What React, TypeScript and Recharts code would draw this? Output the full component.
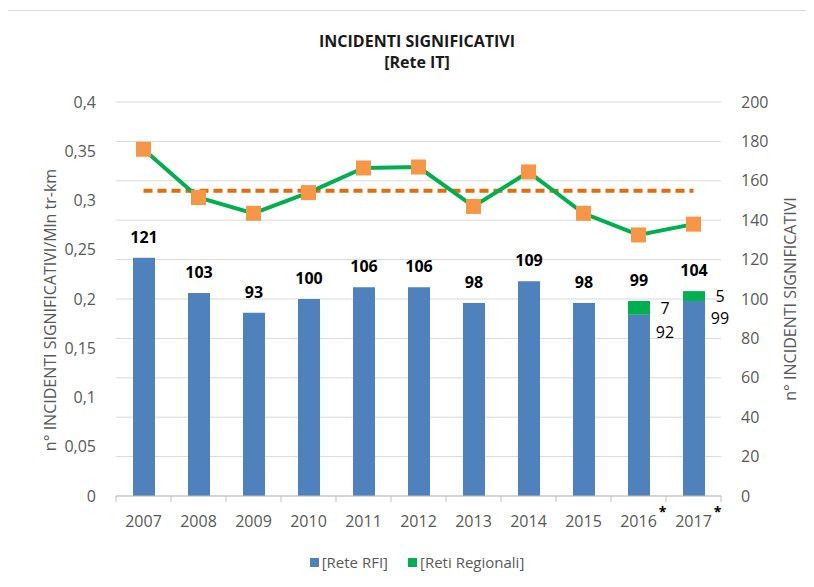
import React from 'react';
import { ComposedChart, Bar, Line, XAxis, YAxis, CartesianGrid, LabelList } from 'recharts';

const anni = ['2007', '2008', '2009', '2010', '2011', '2012', '2013', '2014', '2015', '2016', '2017'];
const reteRFI = [121, 103, 93, 100, 106, 106, 98, 109, 98, 92, 99];
const retiRegionali = [0, 0, 0, 0, 0, 0, 0, 0, 0, 7, 5];
const tasso = [0.352, 0.303, 0.287, 0.308, 0.333, 0.334, 0.294, 0.329, 0.287, 0.265, 0.276];
const mediaTasso = [0.31, 0.31, 0.31, 0.31, 0.31, 0.31, 0.31, 0.31, 0.31, 0.31, 0.31];
const anniConAsterisco = ['2016', '2017'];
const tickSinistra = [0, 0.05, 0.1, 0.15, 0.2, 0.25, 0.3, 0.35, 0.4];
const tickDestra = [0, 20, 40, 60, 80, 100, 120, 140, 160, 180, 200];

const data = anni.map((anno, i) => {
  const tot = reteRFI[i] + retiRegionali[i];
  const haRegionali = retiRegionali[i] > 0;
  return {
    anno,
    rfi: reteRFI[i],
    regionali: retiRegionali[i],
    tasso: tasso[i],
    media: mediaTasso[i],
    tot,
    totSopraRFI: haRegionali ? null : tot,
    rfiLato: haRegionali ? reteRFI[i] : null,
  };
});

const FONT = '"Open Sans", "Liberation Sans", sans-serif';
const GREY = '#595959';
const BAND = 55;

const XTick = (props: any) => {
  const { x, y, payload, index } = props;
  const star = anniConAsterisco.includes(payload.value);
  return (
    <g>
      <line x1={x - BAND / 2} y1={y} x2={x - BAND / 2} y2={y + 6} stroke="#bfbfbf" />
      {index === anni.length - 1 && (
        <line x1={x + BAND / 2} y1={y} x2={x + BAND / 2} y2={y + 6} stroke="#bfbfbf" />
      )}
      <text x={x} y={y + 31} textAnchor="middle" fill={GREY} fontSize={16} fontFamily={FONT}>
        {payload.value}
      </text>
      {star && (
        <text x={x + 24} y={y + 21} textAnchor="middle" fill="#000" fontSize={14} fontWeight="bold" fontFamily={FONT}>
          *
        </text>
      )}
    </g>
  );
};

const Quadrato = (props: any) => {
  const { cx, cy } = props;
  if (cx == null || cy == null) return null;
  return <rect x={cx - 7.5} y={cy - 7.5} width={15} height={15} fill="#f79646" />;
};

const TotaleSopra = (props: any) => {
  const { x, y, width, value } = props;
  if (value == null || value === '') return null;
  return (
    <text x={x + width / 2} y={y - 15} textAnchor="middle" fill="#000" fontSize={16} fontWeight="bold" fontFamily={FONT}>
      {value}
    </text>
  );
};

const LatoAlto = (props: any) => {
  const { x, y, width, height, value } = props;
  if (!value) return null;
  return (
    <text x={x + width + 15} y={y + height / 2 + 6} textAnchor="middle" fill="#000" fontSize={16} fontFamily={FONT}>
      {value}
    </text>
  );
};

const LatoBasso = (props: any) => {
  const { x, y, width, value } = props;
  if (value == null || value === '') return null;
  return (
    <text x={x + width + 15} y={y + 23} textAnchor="middle" fill="#000" fontSize={16} fontFamily={FONT}>
      {value}
    </text>
  );
};

export default function App() {
  return (
    <div
      style={{
        position: 'relative',
        margin: -8,
        width: 814,
        height: 587,
        overflow: 'hidden',
        background: '#fff',
        fontFamily: FONT,
      }}
    >
      <div
        style={{
          position: 'absolute',
          left: 5,
          top: 10,
          width: 830,
          height: 600,
          border: '1px solid #d9d9d9',
        }}
      />
      <div
        style={{
          position: 'absolute',
          top: 31,
          left: 0,
          width: 834,
          textAlign: 'center',
          fontWeight: 'bold',
          fontSize: 16,
          lineHeight: '21px',
          color: '#1a1a1a',
        }}
      >
        INCIDENTI SIGNIFICATIVI
        <br />
        [Rete IT]
      </div>

      <div style={{ position: 'absolute', left: 0, top: 0 }}>
        <ComposedChart width={814} height={587} data={data} margin={{ top: 102, right: 0, bottom: 0, left: 0 }}>
          <CartesianGrid vertical={false} yAxisId="right" stroke="#d9d9d9" />
          <XAxis
            dataKey="anno"
            height={91}
            axisLine={{ stroke: '#bfbfbf' }}
            tickLine={false}
            tickSize={0}
            tickMargin={0}
            interval={0}
            tick={<XTick />}
          />
          <YAxis
            yAxisId="left"
            orientation="left"
            width={116}
            domain={[0, 0.4]}
            ticks={tickSinistra}
            axisLine={false}
            tickLine={false}
            tickMargin={14}
            tickFormatter={(v: number) => String(v).replace('.', ',')}
            tick={{ fill: GREY, fontSize: 16, fontFamily: FONT }}
          />
          <YAxis
            yAxisId="right"
            orientation="right"
            width={93}
            domain={[0, 200]}
            ticks={tickDestra}
            axisLine={false}
            tickLine={false}
            tickMargin={14}
            tick={{ fill: GREY, fontSize: 16, fontFamily: FONT, textAnchor: 'start' }}
          />
          <Bar dataKey="rfi" stackId="a" yAxisId="right" fill="#4f81bd" barSize={22} isAnimationActive={false}>
            <LabelList dataKey="totSopraRFI" content={<TotaleSopra />} />
            <LabelList dataKey="rfiLato" content={<LatoBasso />} />
          </Bar>
          <Bar dataKey="regionali" stackId="a" yAxisId="right" fill="#00b050" barSize={22} isAnimationActive={false}>
            <LabelList dataKey="regionali" content={<LatoAlto />} />
            <LabelList dataKey="tot" content={<TotaleSopra />} />
          </Bar>
          <Line
            dataKey="media"
            yAxisId="left"
            stroke="#e46c0a"
            strokeWidth={4}
            strokeDasharray="9 5"
            dot={false}
            activeDot={false}
            legendType="none"
            isAnimationActive={false}
          />
          <Line
            dataKey="tasso"
            yAxisId="left"
            stroke="#00b050"
            strokeWidth={4}
            dot={<Quadrato />}
            activeDot={false}
            legendType="none"
            isAnimationActive={false}
          />
        </ComposedChart>
      </div>

      <div
        style={{
          position: 'absolute',
          left: 50,
          top: 310,
          transform: 'translate(-50%, -50%) rotate(-90deg)',
          whiteSpace: 'nowrap',
          fontSize: 16,
          color: GREY,
        }}
      >
        n° INCIDENTI SIGNIFICATIVI/Mln tr-km
      </div>
      <div
        style={{
          position: 'absolute',
          left: 790,
          top: 299,
          transform: 'translate(-50%, -50%) rotate(-90deg)',
          whiteSpace: 'nowrap',
          fontSize: 16,
          color: GREY,
        }}
      >
        n° INCIDENTI SIGNIFICATIVI
      </div>

      <div
        style={{
          position: 'absolute',
          top: 552,
          left: 0,
          width: 834,
          display: 'flex',
          justifyContent: 'center',
          alignItems: 'center',
          fontSize: 15,
          color: GREY,
        }}
      >
        <span style={{ width: 9, height: 9, background: '#4f81bd', marginRight: 3 }} />
        <span style={{ marginRight: 20 }}>[Rete RFI]</span>
        <span style={{ width: 9, height: 9, background: '#00b050', marginRight: 3 }} />
        <span>[Reti Regionali]</span>
      </div>
    </div>
  );
}
